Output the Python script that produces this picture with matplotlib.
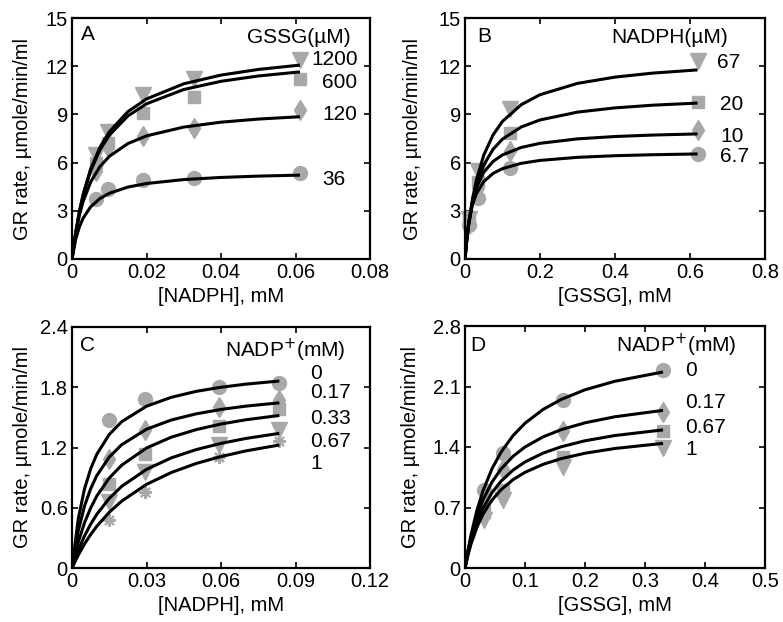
import matplotlib
matplotlib.use("Agg")
import matplotlib.pyplot as plt

plt.rcParams['font.family'] = ['Liberation Sans', 'DejaVu Sans']
plt.rcParams['font.size'] = 14

MARKER_COLOR = '#a8a8a8'

# ---------------- Panel A: rate vs NADPH, series = GSSG (uM) ----------------
a_x_pts = [0.0065, 0.0097, 0.019, 0.0328, 0.0612]
a_labels = ['36', '120', '600', '1200']
a_pts = {
    '36':   [3.75, 4.35, 4.90, 5.03, 5.38],
    '120':  [5.45, 7.00, 7.65, 8.15, 9.30],
    '600':  [6.00, 7.20, 9.10, 10.10, 11.20],
    '1200': [6.45, 7.90, 10.20, 11.20, 12.40],
}
a_x_fit = [0, 0.001, 0.002, 0.003, 0.005, 0.0075, 0.01, 0.015, 0.02, 0.03, 0.04, 0.05, 0.0612]
a_fit = {
    '36':   [0, 1.227, 2.007, 2.548, 3.247, 3.764, 4.089, 4.476, 4.698, 4.943, 5.076, 5.159, 5.221],
    '120':  [0, 1.597, 2.737, 3.593, 4.790, 5.748, 6.387, 7.185, 7.664, 8.211, 8.516, 8.709, 8.856],
    '600':  [0, 1.659, 2.941, 3.961, 5.483, 6.787, 7.702, 8.904, 9.657, 10.549, 11.060, 11.391, 11.646],
    '1200': [0, 1.681, 2.989, 4.035, 5.604, 6.957, 7.912, 9.170, 9.963, 10.905, 11.447, 11.798, 12.069],
}
a_markers = {'36': 'o', '120': 'd', '600': 's', '1200': 'v'}
a_text_pos = {'1200': (0.0643, 12.4), '600': (0.0670, 10.97), '120': (0.0673, 8.97), '36': (0.0673, 4.92)}

# ---------------- Panel B: rate vs GSSG, series = NADPH (uM) ----------------
b_x_pts = [0.010, 0.034, 0.12, 0.62]
b_labels = ['6.7', '10', '20', '67']
b_pts = {
    '6.7': [2.10, 3.80, 5.65, 6.55],
    '10':  [2.20, 4.40, 6.75, 8.05],
    '20':  [2.30, 4.80, 7.85, 9.75],
    '67':  [2.50, 5.50, 9.35, 12.30],
}
b_x_fit = [0, 0.005, 0.01, 0.02, 0.03, 0.05, 0.075, 0.1, 0.15, 0.2, 0.3, 0.4, 0.5, 0.62]
b_fit = {
    '6.7': [0, 1.350, 2.250, 3.375, 4.050, 4.821, 5.329, 5.625, 5.956, 6.136, 6.328, 6.429, 6.490, 6.539],
    '10':  [0, 1.350, 2.314, 3.600, 4.418, 5.400, 6.075, 6.480, 6.943, 7.200, 7.477, 7.624, 7.714, 7.786],
    '20':  [0, 1.198, 2.146, 3.552, 4.544, 5.852, 6.836, 7.464, 8.218, 8.655, 9.142, 9.406, 9.572, 9.705],
    '67':  [0, 1.196, 2.186, 3.729, 4.877, 6.469, 7.732, 8.568, 9.606, 10.226, 10.931, 11.321, 11.569, 11.769],
}
b_markers = {'6.7': 'o', '10': 'd', '20': 's', '67': 'v'}
b_text_pos = {'67': (0.672, 12.2), '20': (0.680, 9.6), '10': (0.680, 7.6), '6.7': (0.680, 6.36)}

# ---------------- Panel C: rate vs NADPH, series = NADP+ (mM) ----------------
c_x_pts = [0.015, 0.0295, 0.059, 0.0835]
c_labels = ['0', '0.17', '0.33', '0.67', '1']
c_pts = {
    '0':    [1.47, 1.68, 1.80, 1.84],
    '0.17': [1.085, 1.375, 1.60, 1.67],
    '0.33': [0.84, 1.14, 1.41, 1.58],
    '0.67': [0.66, 0.96, 1.22, 1.37],
    '1':    [0.48, 0.76, 1.11, 1.26],
}
c_x_fit = [0, 0.0025, 0.005, 0.0075, 0.01, 0.015, 0.02, 0.03, 0.04, 0.05, 0.06, 0.07, 0.0835]
c_fit = {
    '0':    [0, 0.486, 0.785, 0.987, 1.133, 1.330, 1.457, 1.611, 1.700, 1.759, 1.800, 1.831, 1.862],
    '0.17': [0, 0.368, 0.614, 0.789, 0.921, 1.105, 1.228, 1.382, 1.474, 1.535, 1.579, 1.612, 1.645],
    '0.33': [0, 0.256, 0.448, 0.597, 0.717, 0.896, 1.024, 1.195, 1.303, 1.378, 1.434, 1.476, 1.519],
    '0.67': [0, 0.176, 0.318, 0.436, 0.535, 0.693, 0.813, 0.982, 1.097, 1.179, 1.241, 1.290, 1.341],
    '1':    [0, 0.128, 0.238, 0.333, 0.416, 0.555, 0.666, 0.833, 0.951, 1.041, 1.110, 1.166, 1.225],
}
c_markers = {'0': 'o', '0.17': 'd', '0.33': 's', '0.67': 'v', '1': (8, 2, 0)}
c_text_pos = {'0': (0.096, 1.94), '0.17': (0.096, 1.75), '0.33': (0.096, 1.49),
              '0.67': (0.096, 1.26), '1': (0.096, 1.04)}

# ---------------- Panel D: rate vs GSSG, series = NADP+ (mM) ----------------
d_x_pts = [0.032, 0.063, 0.163, 0.33]
d_labels = ['0', '0.17', '0.67', '1']
d_pts = {
    '0':    [0.90, 1.33, 1.94, 2.29],
    '0.17': [0.75, 1.15, 1.58, 1.80],
    '0.67': [0.65, 0.90, 1.29, 1.59],
    '1':    [0.56, 0.79, 1.17, 1.39],
}
d_x_fit = [0, 0.005, 0.01, 0.02, 0.03, 0.045, 0.06, 0.08, 0.1, 0.13, 0.16, 0.2, 0.25, 0.33]
d_fit = {
    '0':    [0, 0.206, 0.383, 0.670, 0.893, 1.149, 1.340, 1.531, 1.675, 1.834, 1.949, 2.062, 2.161, 2.268],
    '0.17': [0, 0.191, 0.350, 0.600, 0.788, 0.995, 1.145, 1.292, 1.400, 1.517, 1.600, 1.680, 1.750, 1.824],
    '0.67': [0, 0.167, 0.307, 0.526, 0.690, 0.872, 1.004, 1.132, 1.227, 1.329, 1.402, 1.472, 1.533, 1.598],
    '1':    [0, 0.151, 0.277, 0.474, 0.623, 0.786, 0.905, 1.022, 1.107, 1.199, 1.265, 1.328, 1.383, 1.442],
}
d_markers = {'0': 'o', '0.17': 'd', '0.67': 's', '1': 'v'}
d_text_pos = {'0': (0.367, 2.28), '0.17': (0.367, 1.91), '0.67': (0.367, 1.63), '1': (0.367, 1.37)}

# ---------------- ticks ----------------
a_xticks = [0, 0.02, 0.04, 0.06, 0.08]; a_xtl = ['0', '0.02', '0.04', '0.06', '0.08']
a_yticks = [0, 3, 6, 9, 12, 15];        a_ytl = ['0', '3', '6', '9', '12', '15']
b_xticks = [0, 0.2, 0.4, 0.6, 0.8];     b_xtl = ['0', '0.2', '0.4', '0.6', '0.8']
c_xticks = [0, 0.03, 0.06, 0.09, 0.12]; c_xtl = ['0', '0.03', '0.06', '0.09', '0.12']
c_yticks = [0, 0.6, 1.2, 1.8, 2.4];     c_ytl = ['0', '0.6', '1.2', '1.8', '2.4']
d_xticks = [0, 0.1, 0.2, 0.3, 0.4, 0.5]; d_xtl = ['0', '0.1', '0.2', '0.3', '0.4', '0.5']
d_yticks = [0, 0.7, 1.4, 2.1, 2.8];     d_ytl = ['0', '0.7', '1.4', '2.1', '2.8']

YLABEL = 'GR rate, \u00b5mole/min/ml'
FS_TICK = 14.5
FS_LABEL = 14.5
FS_TEXT = 15

W, H = 783, 622
fig = plt.figure(figsize=(W / 100, H / 100), dpi=100)


def add_ax(l, t, r, b):
    return fig.add_axes([l / W, 1 - b / H, (r - l) / W, (b - t) / H])


def panel(ax, x_pts, pts, x_fit, fit, markers, order, xticks, xtl, yticks, ytl,
          xlabel, letter, letter_pos, title, title_pos, text_pos, ylab_x):
    for k in order:
        m = markers[k]
        if isinstance(m, tuple):
            ax.plot(x_pts, pts[k], linestyle='none', marker=m, markersize=9,
                    markeredgecolor=MARKER_COLOR, markeredgewidth=1.5, zorder=2, clip_on=False)
        else:
            ms = 11 if m == 'v' else (10 if m in ('o', 'd') else 9)
            ax.plot(x_pts, pts[k], linestyle='none', marker=m, markersize=ms,
                    markerfacecolor=MARKER_COLOR, markeredgecolor=MARKER_COLOR,
                    zorder=2, clip_on=False)
        ax.plot(x_fit, fit[k], color='black', linewidth=2.2, zorder=3, solid_capstyle='butt')
    ax.set_xlim(xticks[0], xticks[-1])
    ax.set_ylim(yticks[0], yticks[-1])
    ax.set_xticks(xticks)
    ax.set_xticklabels(xtl)
    ax.set_yticks(yticks)
    ax.set_yticklabels(ytl)
    ax.tick_params(direction='in', top=True, right=True, length=4, width=1.2, pad=3,
                   labelsize=FS_TICK)
    for s in ax.spines.values():
        s.set_linewidth(1.6)
    ax.set_xlabel(xlabel, fontsize=FS_LABEL)
    ax.xaxis.set_label_coords(0.5, -0.115)
    ax.set_ylabel(YLABEL, fontsize=FS_LABEL)
    ax.yaxis.set_label_coords(ylab_x, 0.5)
    ax.text(letter_pos[0], letter_pos[1], letter, fontsize=FS_TEXT, ha='left', va='center')
    ax.text(title_pos[0], title_pos[1], title, fontsize=FS_TEXT, ha='right', va='center')
    for k, (tx, ty) in text_pos.items():
        ax.text(tx, ty, k, fontsize=FS_TEXT, ha='left', va='center', clip_on=False)


axA = add_ax(72, 18, 370, 259)
panel(axA, a_x_pts, a_pts, a_x_fit, a_fit, a_markers, a_labels, a_xticks, a_xtl, a_yticks, a_ytl,
      '[NADPH], mM', 'A', (0.0023, 13.95), 'GSSG(\u00b5M)', (0.0748, 13.77), a_text_pos, -0.134)

axB = add_ax(465, 18, 765, 259)
panel(axB, b_x_pts, b_pts, b_x_fit, b_fit, b_markers, b_labels, b_xticks, b_xtl, a_yticks, a_ytl,
      '[GSSG], mM', 'B', (0.032, 13.86), 'NADPH(\u00b5M)', (0.702, 13.8), b_text_pos, -0.143)

axC = add_ax(72, 327, 370, 568)
panel(axC, c_x_pts, c_pts, c_x_fit, c_fit, c_markers, c_labels, c_xticks, c_xtl, c_yticks, c_ytl,
      '[NADPH], mM', 'C', (0.0032, 2.22), 'NADP$^{+}$(mM)', (0.110, 2.17), c_text_pos, -0.134)

axD = add_ax(465, 326, 765, 568)
panel(axD, d_x_pts, d_pts, d_x_fit, d_fit, d_markers, d_labels, d_xticks, d_xtl, d_yticks, d_ytl,
      '[GSSG], mM', 'D', (0.0095, 2.58), 'NADP$^{+}$(mM)', (0.453, 2.58), d_text_pos, -0.15)

fig.savefig('out.png', dpi=100)
